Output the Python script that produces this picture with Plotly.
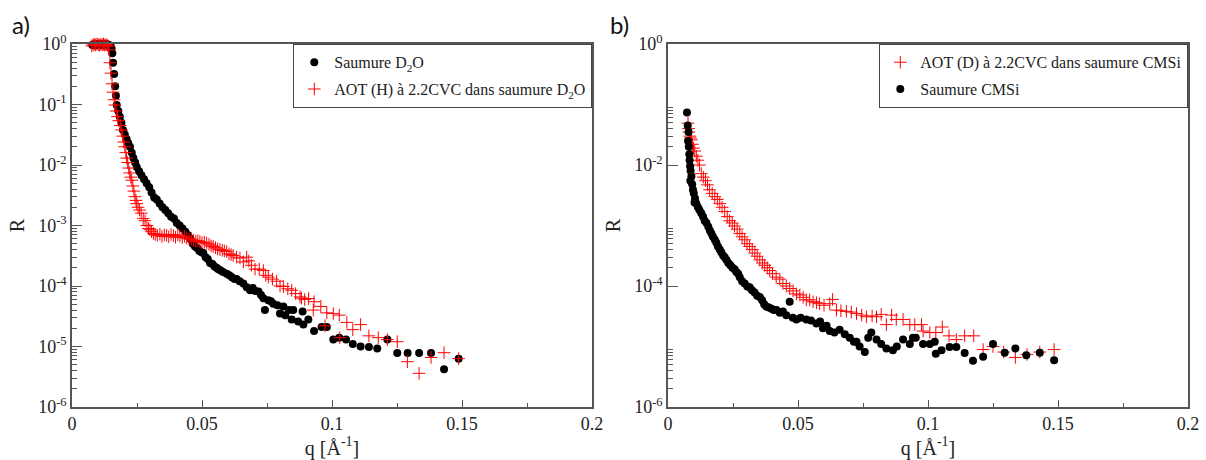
import plotly.graph_objects as go

# ---------------- Panel a) ----------------
q_a_saumure = [0.0078, 0.0083, 0.0088, 0.0093, 0.0098, 0.0103, 0.0108, 0.0113, 0.0118, 0.0123,
               0.0128, 0.0133, 0.0138, 0.0143, 0.0148, 0.0152, 0.0155, 0.0158, 0.0162, 0.0166,
               0.0169, 0.0172, 0.0178, 0.0184, 0.0190, 0.0196, 0.0203, 0.0210, 0.0216, 0.0223,
               0.0230, 0.0236, 0.0243, 0.0249, 0.0258, 0.0267, 0.0277, 0.0287, 0.0297, 0.0306,
               0.0316, 0.0326, 0.0337, 0.0348, 0.0359, 0.0370, 0.0381, 0.0392, 0.0403, 0.0414,
               0.0425, 0.0436, 0.0447, 0.0456, 0.0465, 0.0473, 0.0482, 0.0490, 0.0498, 0.0505,
               0.0514, 0.0522, 0.0531, 0.0540, 0.0548, 0.0556, 0.0563, 0.0572, 0.0581, 0.0595,
               0.0605, 0.0615, 0.0625, 0.0633, 0.0645, 0.0659, 0.0672, 0.0685, 0.0695, 0.0705,
               0.0717, 0.0727, 0.0736, 0.0742, 0.0755, 0.0765, 0.0774, 0.0790, 0.0800, 0.0813,
               0.0820, 0.0835, 0.0845, 0.0851, 0.0870, 0.0887, 0.0890, 0.0909, 0.0931, 0.0960,
               0.0980, 0.1005, 0.1028, 0.1054, 0.1080, 0.1110, 0.1142, 0.1174, 0.1213, 0.1251,
               0.1291, 0.1335, 0.1381, 0.1431, 0.1487]
R_a_saumure = [0.96, 0.99, 0.95, 0.98, 1.00, 0.97, 0.99, 0.96, 0.98, 1.00,
               0.97, 0.99, 0.98, 0.96, 0.93, 0.85, 0.70, 0.49, 0.32, 0.20,
               0.14, 0.098, 0.078, 0.063, 0.050, 0.038, 0.032, 0.027, 0.023, 0.020,
               0.016, 0.013, 0.011, 0.0093, 0.0079, 0.0068, 0.0058, 0.0050, 0.0043, 0.0035,
               0.0029, 0.0027, 0.0023, 0.0020, 0.0018, 0.0016, 0.0014, 0.0013, 0.0011, 0.00100,
               0.00089, 0.00079, 0.00069, 0.00060, 0.00050, 0.00045, 0.00042, 0.00038, 0.00036, 0.00035,
               0.00030, 0.00028, 0.00024, 0.00023, 0.00021, 0.00020, 0.00019, 0.00018, 0.00017, 0.00016,
               0.00015, 0.00014, 0.00013, 0.00013, 0.00012, 0.00011, 0.000095, 0.000085, 0.000093, 0.000083,
               0.000081, 0.000071, 0.000063, 0.000040, 0.000058, 0.000056, 0.000051, 0.000048, 0.000035, 0.000046,
               0.000033, 0.000040, 0.000028, 0.000040, 0.000026, 0.000038, 0.000023, 0.000028, 0.000018, 0.000021,
               0.000021, 0.000013, 0.000014, 0.000013, 0.000011, 0.000010, 0.0000098, 0.0000093, 0.000013, 0.0000078,
               0.0000078, 0.0000078, 0.0000078, 0.0000042, 0.0000063]

q_a_aot = [0.0076, 0.0081, 0.0086, 0.0091, 0.0096, 0.0101, 0.0106, 0.0111, 0.0116, 0.0121,
           0.0126, 0.0131, 0.0136, 0.0140, 0.0143, 0.0146, 0.0150, 0.0154, 0.0158, 0.0162,
           0.0165, 0.0170, 0.0175, 0.0180, 0.0186, 0.0191, 0.0195, 0.0199, 0.0203, 0.0207,
           0.0210, 0.0214, 0.0218, 0.0222, 0.0226, 0.0230, 0.0234, 0.0238, 0.0242, 0.0246,
           0.0249, 0.0254, 0.0260, 0.0266, 0.0274, 0.0281, 0.0288, 0.0294, 0.0300, 0.0306,
           0.0313, 0.0320, 0.0328, 0.0338, 0.0346, 0.0355, 0.0364, 0.0372, 0.0381, 0.0390,
           0.0398, 0.0407, 0.0415, 0.0424, 0.0433, 0.0441, 0.0450, 0.0459, 0.0467, 0.0476,
           0.0484, 0.0492, 0.0500, 0.0509, 0.0518, 0.0527, 0.0535, 0.0543, 0.0552, 0.0560,
           0.0569, 0.0578, 0.0586, 0.0595, 0.0604, 0.0612, 0.0620, 0.0633, 0.0646, 0.0659,
           0.0672, 0.0680, 0.0690, 0.0704, 0.0720, 0.0736, 0.0745, 0.0755, 0.0771, 0.0787,
           0.0800, 0.0813, 0.0830, 0.0845, 0.0860, 0.0877, 0.0883, 0.0895, 0.0910, 0.0928,
           0.0931, 0.0957, 0.0973, 0.0980, 0.1005, 0.1028, 0.1030, 0.1057, 0.1080, 0.1110,
           0.1142, 0.1178, 0.1213, 0.1251, 0.1290, 0.1335, 0.1381, 0.1431, 0.1487]
R_a_aot = [0.93, 0.97, 0.99, 0.96, 1.00, 0.98, 0.95, 0.99, 0.97, 1.00,
           0.96, 0.98, 0.95, 0.92, 0.80, 0.49, 0.33, 0.22, 0.16, 0.12,
           0.098, 0.078, 0.063, 0.054, 0.045, 0.038, 0.030, 0.024, 0.020, 0.016,
           0.013, 0.011, 0.0089, 0.0074, 0.0063, 0.0056, 0.0045, 0.0037, 0.0030, 0.0026,
           0.0023, 0.0020, 0.0018, 0.0016, 0.0013, 0.0012, 0.0010, 0.00089, 0.00085, 0.00079,
           0.00074, 0.00071, 0.00069, 0.00072, 0.00066, 0.00070, 0.00069, 0.00065, 0.00071, 0.00068,
           0.00064, 0.00070, 0.00067, 0.00063, 0.00066, 0.00062, 0.00060, 0.00059, 0.00057, 0.00055,
           0.00056, 0.00054, 0.00052, 0.00053, 0.00051, 0.00049, 0.00046, 0.00045, 0.00043, 0.00041,
           0.00040, 0.00039, 0.00038, 0.00037, 0.00034, 0.00033, 0.00032, 0.00030, 0.00029, 0.00025,
           0.00030, 0.00026, 0.00022, 0.00019, 0.00019, 0.00018, 0.00015, 0.00014, 0.00013, 0.00012,
           0.00010, 0.000098, 0.000090, 0.000085, 0.000075, 0.000066, 0.000063, 0.000060, 0.000062, 0.000040,
           0.000055, 0.000046, 0.000022, 0.000036, 0.000035, 0.000033, 0.000014, 0.000025, 0.000019, 0.000023,
           0.000015, 0.000014, 0.000013, 0.000012, 0.0000056, 0.0000036, 0.0000066, 0.0000079, 0.0000063]

# ---------------- Panel b) ----------------
q_b_aot = [0.0077, 0.0079, 0.0081, 0.0084, 0.0087, 0.0090, 0.0094, 0.0098, 0.0103, 0.0109,
           0.0115, 0.0121, 0.0128, 0.0136, 0.0144, 0.0152, 0.0160, 0.0170, 0.0180, 0.0190,
           0.0199, 0.0208, 0.0218, 0.0228, 0.0237, 0.0247, 0.0256, 0.0266, 0.0276, 0.0285,
           0.0295, 0.0304, 0.0314, 0.0324, 0.0334, 0.0343, 0.0353, 0.0363, 0.0372, 0.0382,
           0.0391, 0.0402, 0.0416, 0.0430, 0.0442, 0.0455, 0.0468, 0.0481, 0.0494, 0.0507,
           0.0520, 0.0532, 0.0545, 0.0558, 0.0571, 0.0583, 0.0600, 0.0622, 0.0633, 0.0648,
           0.0665, 0.0686, 0.0705, 0.0725, 0.0745, 0.0763, 0.0785, 0.0802, 0.0820, 0.0840,
           0.0860, 0.0878, 0.0904, 0.0930, 0.0949, 0.0975, 0.0981, 0.1007, 0.1030, 0.1055,
           0.1081, 0.1109, 0.1141, 0.1176, 0.1212, 0.1250, 0.1291, 0.1336, 0.1381, 0.1430,
           0.1485]
R_b_aot = [0.049, 0.040, 0.035, 0.030, 0.028, 0.026, 0.022, 0.019, 0.017, 0.014,
           0.012, 0.010, 0.0072, 0.0063, 0.0055, 0.0047, 0.0039, 0.0034, 0.0030, 0.0027,
           0.0023, 0.0020, 0.0017, 0.0014, 0.0012, 0.0011, 0.00098, 0.00087, 0.00074, 0.00065,
           0.00058, 0.00050, 0.00045, 0.00040, 0.00035, 0.00031, 0.00027, 0.00024, 0.00022, 0.00020,
           0.00018, 0.00016, 0.00014, 0.00013, 0.00011, 0.00010, 0.000091, 0.000083, 0.000074, 0.000071,
           0.000065, 0.000059, 0.000059, 0.000055, 0.000053, 0.000051, 0.000048, 0.000051, 0.000060, 0.000040,
           0.000039, 0.000038, 0.000037, 0.000035, 0.000033, 0.000031, 0.000032, 0.000031, 0.000034, 0.000023,
           0.000033, 0.000028, 0.000028, 0.000023, 0.000023, 0.000023, 0.000018, 0.000017, 0.000017, 0.000021,
           0.000015, 0.000013, 0.000015, 0.000015, 0.0000089, 0.000010, 0.0000081, 0.0000066, 0.0000074, 0.0000081,
           0.0000089]

q_b_saumure = [0.0073, 0.0076, 0.0079, 0.0077, 0.0080, 0.0082, 0.0083, 0.0085, 0.0087, 0.0090,
               0.0086, 0.0093, 0.0096, 0.0099, 0.0104, 0.0109, 0.0102, 0.0115, 0.0121, 0.0128,
               0.0135, 0.0141, 0.0148, 0.0155, 0.0161, 0.0167, 0.0173, 0.0180, 0.0186, 0.0192,
               0.0199, 0.0205, 0.0212, 0.0218, 0.0225, 0.0232, 0.0240, 0.0248, 0.0256, 0.0263,
               0.0270, 0.0276, 0.0285, 0.0295, 0.0305, 0.0314, 0.0323, 0.0333, 0.0343, 0.0353,
               0.0362, 0.0370, 0.0378, 0.0388, 0.0398, 0.0407, 0.0417, 0.0430, 0.0442, 0.0455,
               0.0468, 0.0480, 0.0494, 0.0510, 0.0532, 0.0550, 0.0571, 0.0585, 0.0596, 0.0610,
               0.0622, 0.0640, 0.0660, 0.0680, 0.0699, 0.0715, 0.0725, 0.0737, 0.0757, 0.0770,
               0.0782, 0.0802, 0.0820, 0.0840, 0.0865, 0.0880, 0.0904, 0.0930, 0.0942, 0.0953,
               0.0981, 0.1007, 0.1026, 0.1030, 0.1052, 0.1083, 0.1109, 0.1141, 0.1173, 0.1212,
               0.1250, 0.1295, 0.1336, 0.1378, 0.1430, 0.1485]
R_b_saumure = [0.074, 0.045, 0.035, 0.025, 0.020, 0.015, 0.012, 0.0095, 0.0080, 0.0065,
               0.0055, 0.0048, 0.0039, 0.0034, 0.0028, 0.0023, 0.0024, 0.0020, 0.0018, 0.0016,
               0.0014, 0.0012, 0.0011, 0.00095, 0.00083, 0.00074, 0.00065, 0.00058, 0.00052, 0.00045,
               0.00040, 0.00036, 0.00032, 0.00030, 0.00027, 0.00024, 0.00022, 0.00020, 0.00019, 0.00017,
               0.00016, 0.00014, 0.00012, 0.00011, 0.000098, 0.000095, 0.000085, 0.000078, 0.000069, 0.000066,
               0.000058, 0.000050, 0.000046, 0.000044, 0.000042, 0.000040, 0.000040, 0.000036, 0.000038, 0.000033,
               0.000055, 0.000030, 0.000028, 0.000030, 0.000028, 0.000027, 0.000024, 0.000026, 0.000020, 0.000022,
               0.000018, 0.000017, 0.000019, 0.000016, 0.000014, 0.000012, 0.000012, 0.000010, 0.0000081, 0.000014,
               0.000017, 0.000013, 0.000011, 0.0000093, 0.0000087, 0.000010, 0.000013, 0.000011, 0.000014, 0.000014,
               0.000011, 0.000011, 0.000012, 0.0000076, 0.0000087, 0.0000098, 0.0000098, 0.0000078, 0.0000058, 0.0000068,
               0.000011, 0.0000079, 0.0000093, 0.0000072, 0.0000079, 0.0000059]

# ---------------- Tick labels ----------------
x_tickvals = [0, 0.05, 0.1, 0.15, 0.2]
x_ticktext = ["0", "0.05", "0.1", "0.15", "0.2"]
x_minor = [0.025, 0.075, 0.125, 0.175]

ya_tickvals = [1, 1e-1, 1e-2, 1e-3, 1e-4, 1e-5, 1e-6]
ya_ticktext = ["10<sup>0</sup>", "10<sup>-1</sup>", "10<sup>-2</sup>", "10<sup>-3</sup>",
               "10<sup>-4</sup>", "10<sup>-5</sup>", "10<sup>-6</sup>"]
yb_tickvals = [1, 1e-2, 1e-4, 1e-6]
yb_ticktext = ["10<sup>0</sup>", "10<sup>-2</sup>", "10<sup>-4</sup>", "10<sup>-6</sup>"]

ya_minor = [k * 10.0 ** e for e in range(-6, 0) for k in range(2, 10)]
yb_minor = [k * 10.0 ** e for e in (-6, -4, -2) for k in range(2, 10)]

W, H = 1206, 460
SERIF = "Liberation Serif, Times New Roman, Times, serif"
AX = "#555555"

fig = go.Figure()

circle = dict(symbol="circle", size=8, color="black")
cross = dict(symbol="cross-thin", size=9, color="red", line=dict(color="red", width=1))

fig.add_trace(go.Scatter(x=q_a_saumure, y=R_a_saumure, mode="markers",
                         name="Saumure D<sub>2</sub>O", marker=circle, legendgroup="a1",
                         xaxis="x", yaxis="y", legend="legend", cliponaxis=False))
fig.add_trace(go.Scatter(x=q_a_aot, y=R_a_aot, mode="markers",
                         name="AOT (H) à 2.2CVC dans saumure D<sub>2</sub>O", marker=cross,
                         legendgroup="a2",
                         xaxis="x", yaxis="y", legend="legend", cliponaxis=False))
fig.add_trace(go.Scatter(x=q_b_aot, y=R_b_aot, mode="markers",
                         name="AOT (D) à 2.2CVC dans saumure CMSi", marker=cross,
                         legendgroup="b1",
                         xaxis="x2", yaxis="y2", legend="legend2", cliponaxis=False))
fig.add_trace(go.Scatter(x=q_b_saumure, y=R_b_saumure, mode="markers",
                         name="Saumure CMSi", marker=circle, legendgroup="b2",
                         xaxis="x2", yaxis="y2", legend="legend2", cliponaxis=False))

def xaxis(domain, anchor):
    return dict(domain=domain, anchor=anchor, range=[0, 0.2],
                tickmode="array", tickvals=x_tickvals, ticktext=x_ticktext,
                ticks="inside", ticklen=7, tickwidth=1.3, tickcolor=AX,
                minor=dict(tickmode="array", tickvals=x_minor, ticks="inside",
                           ticklen=4, tickwidth=1.2, tickcolor=AX, showgrid=False),
                showline=True, linecolor=AX, linewidth=1.5, mirror=True,
                showgrid=False, zeroline=False, automargin=False,
                tickfont=dict(family=SERIF, size=18, color="#222"),
                title=dict(text="q [Å<sup>-1</sup>]", font=dict(family=SERIF, size=20, color="#222"),
                           standoff=5))

def yaxis(domain, anchor, tv, tt, minor):
    return dict(domain=domain, anchor=anchor, type="log", range=[-6, 0],
                tickmode="array", tickvals=tv, ticktext=tt,
                ticks="inside", ticklen=10, tickwidth=1.3, tickcolor=AX,
                minor=dict(tickmode="array", tickvals=minor, ticks="inside",
                           ticklen=5, tickwidth=1.1, tickcolor=AX, showgrid=False),
                showline=True, linecolor=AX, linewidth=1.5, mirror=True,
                showgrid=False, zeroline=False, automargin=False,
                tickfont=dict(family=SERIF, size=18, color="#222"),
                title=dict(text="R", font=dict(family=SERIF, size=20, color="#222"),
                           standoff=8))

ydom = [(H - 407) / H, (H - 44) / H]
xa_dom = [72 / W, 592 / W]
xb_dom = [668 / W, 1188 / W]

legend_style = dict(bgcolor="white", bordercolor="#444", borderwidth=1.3,
                    font=dict(family=SERIF, size=16, color="#222"),
                    yanchor="top", xanchor="right", y=ydom[1], traceorder="grouped",
                    tracegroupgap=3, itemsizing="trace", itemwidth=30)

fig.update_layout(
    width=W, height=H,
    margin=dict(l=0, r=0, t=0, b=0),
    paper_bgcolor="white", plot_bgcolor="white",
    font=dict(family=SERIF, color="#222"),
    xaxis=xaxis(xa_dom, "y"),
    yaxis=yaxis(ydom, "x", ya_tickvals, ya_ticktext, ya_minor),
    xaxis2=xaxis(xb_dom, "y2"),
    yaxis2=yaxis(ydom, "x2", yb_tickvals, yb_ticktext, yb_minor),
    legend=dict(x=xa_dom[1], **legend_style),
    legend2=dict(x=xb_dom[1], **legend_style),
    annotations=[
        dict(text="a)", x=10 / W, y=(H - 24) / H, xref="paper", yref="paper",
             xanchor="left", yanchor="middle", showarrow=False,
             font=dict(family="Lato", size=24, color="#111")),
        dict(text="b)", x=608 / W, y=(H - 24) / H, xref="paper", yref="paper",
             xanchor="left", yanchor="middle", showarrow=False,
             font=dict(family="Lato", size=24, color="#111")),
    ],
)

fig.write_html("out.html")
